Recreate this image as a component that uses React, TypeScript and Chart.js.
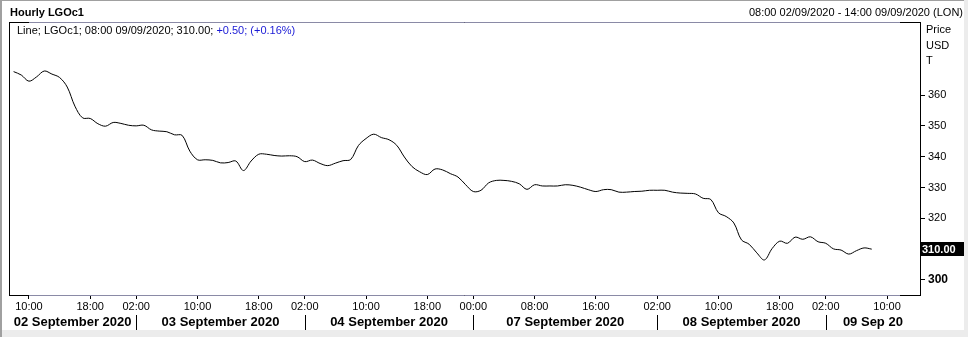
import React, { useEffect, useRef } from 'react';
import { Chart, registerables } from 'chart.js';

Chart.register(...registerables);

// Hourly LGOc1 closes, one value per trading hour (02/09/2020 08:00 .. 09/09/2020 08:00)
const prices: number[] = [
  367.6, 366.5, 364.5, 365.9, 367.8, 366.8, 365.7, 362.6, 356.4, 352.6,
  352.4, 350.7, 349.9, 351.1, 350.8, 350.2, 350.0, 350.2, 348.7, 348.3,
  348.1, 347.1, 346.9, 341.8, 339.0, 339.0, 338.8, 338.0, 338.1, 338.6,
  335.5, 338.6, 340.8, 340.8, 340.4, 340.2, 340.3, 340.0, 338.4, 338.9,
  337.8, 337.1, 337.9, 338.7, 339.1, 343.6, 345.9, 347.3, 346.2, 345.5,
  343.7, 339.9, 336.8, 335.1, 334.2, 336.0, 335.7, 334.5, 333.4, 330.9,
  328.7, 329.1, 331.5, 332.3, 332.3, 332.0, 331.2, 329.4, 330.9, 330.5,
  330.5, 330.5, 330.9, 330.7, 330.1, 329.3, 328.7, 329.3, 329.3, 328.5,
  328.5, 328.7, 328.8, 329.1, 329.1, 329.1, 328.5, 328.2, 328.1, 327.9,
  326.5, 326.1, 321.8, 320.6, 318.5, 313.0, 311.6, 308.8, 306.5, 310.2,
  312.6, 311.9, 313.9, 313.2, 314.0, 312.4, 311.9, 310.1, 309.7, 308.4,
  309.5, 310.4, 310.0,
];

// x-axis: positions (trading-hour index) and labels of the hour ticks
const hourTickIndex: number[] = [2, 10, 16, 24, 32, 38, 46, 54, 60, 68, 76, 84, 92, 100, 106, 114];
const hourTickLabels: string[] = [
  '10:00', '18:00', '02:00', '10:00', '18:00', '02:00', '10:00', '18:00',
  '00:00', '08:00', '16:00', '02:00', '10:00', '18:00', '02:00', '10:00',
];
// day separators (trading-hour index) and day captions
const dayBreakIndex: number[] = [16, 38, 60, 84, 106];
const dayLabels: string[] = [
  '02 September 2020', '03 September 2020', '04 September 2020',
  '07 September 2020', '08 September 2020', '09 Sep 20',
];

// y-axis
const yTicks: number[] = [300, 310, 320, 330, 340, 350, 360];
const yMin = 294.8;
const yMax = 383.7;
const xMin = -0.6;
const xMax = 118.3;
const lastPrice = 310.0;

const FONT = "'Liberation Sans', Arial, sans-serif";

const overlayPlugin = {
  id: 'overlay',
  afterDraw(chart: any) {
    const { ctx, chartArea } = chart;
    const xs = chart.scales.x;
    const ys = chart.scales.y;
    ctx.save();
    // plot frame
    ctx.strokeStyle = '#000';
    ctx.lineWidth = 1;
    ctx.strokeRect(chartArea.left + 0.5, chartArea.top + 0.5, chartArea.right - chartArea.left, chartArea.bottom - chartArea.top - 1);
    ctx.strokeStyle = '#8a8aa6';
    ctx.beginPath();
    ctx.moveTo(chartArea.left + 20, chartArea.top + 0.5);
    ctx.lineTo(900, chartArea.top + 0.5);
    ctx.moveTo(chartArea.left + 20, chartArea.bottom - 0.5);
    ctx.lineTo(900, chartArea.bottom - 0.5);
    ctx.stroke();

    // day captions and separators
    ctx.fillStyle = '#000';
    ctx.font = `bold 13px ${FONT}`;
    ctx.textAlign = 'center';
    ctx.textBaseline = 'middle';
    for (let k = 0; k < dayLabels.length; k++) {
      const l = k === 0 ? chartArea.left : xs.getPixelForValue(dayBreakIndex[k - 1]);
      const r = k === dayLabels.length - 1 ? chartArea.right : xs.getPixelForValue(dayBreakIndex[k]);
      ctx.fillText(dayLabels[k], (l + r) / 2, 322.5);
    }
    ctx.strokeStyle = '#000';
    ctx.beginPath();
    for (const b of dayBreakIndex) {
      const px = Math.round(xs.getPixelForValue(b)) + 0.5;
      ctx.moveTo(px, 315);
      ctx.lineTo(px, 330);
    }
    ctx.stroke();

    // last price box
    const py = ys.getPixelForValue(lastPrice);
    ctx.fillStyle = '#000';
    ctx.fillRect(chartArea.right, Math.round(py) - 7, 45, 14);
    ctx.fillStyle = '#fff';
    ctx.font = `bold 11px ${FONT}`;
    ctx.textAlign = 'left';
    ctx.fillText(lastPrice.toFixed(2), chartArea.right + 2, Math.round(py) + 0.5);
    ctx.restore();
  },
};

export default function App() {
  const canvasRef = useRef<HTMLCanvasElement | null>(null);

  useEffect(() => {
    const canvas = canvasRef.current;
    if (!canvas) return;
    const chart = new Chart(canvas, {
      type: 'line',
      data: {
        datasets: [
          {
            data: prices.map((v, i) => ({ x: i, y: v })),
            borderColor: '#000',
            borderWidth: 1,
            pointRadius: 0,
            tension: 0.35,
            fill: false,
          },
        ],
      },
      options: {
        responsive: false,
        animation: false,
        layout: { padding: { left: 9, top: 22, right: 0, bottom: 0 } },
        plugins: { legend: { display: false }, tooltip: { enabled: false } },
        scales: {
          x: {
            type: 'linear',
            position: 'bottom',
            min: xMin,
            max: xMax,
            afterBuildTicks: (s: any) => {
              s.ticks = hourTickIndex.map((v) => ({ value: v }));
            },
            afterFit: (s: any) => {
              s.height = 41;
            },
            ticks: {
              autoSkip: false,
              maxRotation: 0,
              padding: 1,
              color: '#000',
              font: { family: FONT, size: 11 },
              callback: (v: any) => {
                const k = hourTickIndex.indexOf(Number(v));
                return k >= 0 ? hourTickLabels[k] : '';
              },
            },
            grid: { drawOnChartArea: false, drawTicks: true, tickLength: 3, color: '#000' },
            border: { display: false },
          },
          y: {
            type: 'linear',
            position: 'right',
            min: yMin,
            max: yMax,
            afterBuildTicks: (s: any) => {
              s.ticks = yTicks.map((v) => ({ value: v }));
            },
            afterFit: (s: any) => {
              s.width = 48;
            },
            ticks: {
              padding: 3,
              color: '#000',
              font: (c: any) =>
                c.tick && c.tick.value === 300
                  ? { family: FONT, size: 12, weight: 'bold' }
                  : { family: FONT, size: 11 },
              callback: (v: any) => (Number(v) === lastPrice ? '' : String(v)),
            },
            grid: { drawOnChartArea: false, drawTicks: true, tickLength: 5, color: '#000' },
            border: { display: false },
          },
        },
      },
      plugins: [overlayPlugin],
    } as any);
    return () => chart.destroy();
  }, []);

  const txt: React.CSSProperties = {
    position: 'absolute',
    fontFamily: FONT,
    fontSize: 11,
    lineHeight: '13px',
    whiteSpace: 'nowrap',
    color: '#000',
  };

  return (
    <div
      style={{
        position: 'fixed',
        left: 0,
        top: 0,
        width: 968,
        height: 337,
        background: '#fff',
        overflow: 'hidden',
      }}
    >
      <canvas ref={canvasRef} width={968} height={337} style={{ display: 'block', position: 'absolute', left: 0, top: 0 }} />
      {/* outer frame */}
      <div style={{ position: 'absolute', left: 0, top: 0, width: 968, height: 1, background: '#a0a0a0' }} />
      <div style={{ position: 'absolute', left: 0, top: 0, width: 2, height: 337, background: '#a0a0a0' }} />
      <div style={{ position: 'absolute', left: 2, top: 330, width: 966, height: 7, background: '#ececec' }} />
      <div style={{ position: 'absolute', left: 964, top: 0, width: 4, height: 337, background: '#ececec' }} />
      {/* header */}
      <div style={{ ...txt, left: 10, top: 6, fontWeight: 'bold' }}>Hourly LGOc1</div>
      <div style={{ ...txt, right: 5, top: 6 }}>08:00 02/09/2020 - 14:00 09/09/2020 (LON)</div>
      <div style={{ ...txt, left: 17, top: 24 }}>
        Line; LGOc1; 08:00 09/09/2020; 310.00; <span style={{ color: '#1a1ad6' }}>+0.50; (+0.16%)</span>
      </div>
      {/* y axis caption */}
      <div style={{ ...txt, left: 926, top: 23 }}>Price</div>
      <div style={{ ...txt, left: 926, top: 39 }}>USD</div>
      <div style={{ ...txt, left: 926, top: 54 }}>T</div>
    </div>
  );
}
